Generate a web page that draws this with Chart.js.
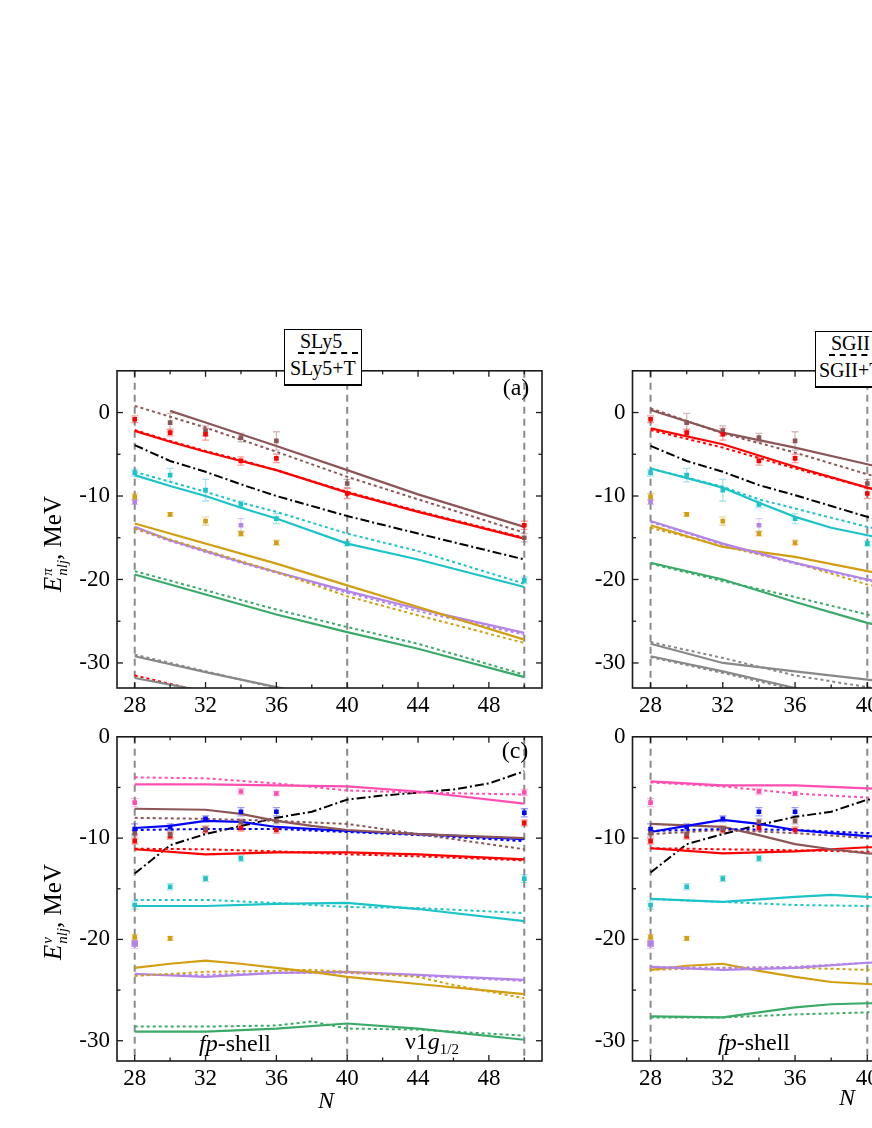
<!DOCTYPE html>
<html>
<head>
<meta charset="utf-8">
<script src="https://cdn.jsdelivr.net/npm/chart.js@4.4.1/dist/chart.umd.min.js"></script>
<style>
html, body { margin: 0; padding: 0; width: 872px; height: 1128px; overflow: hidden; background: #fff; }
canvas { position: absolute; }
.t { position: absolute; font-family: 'Liberation Serif', 'Times New Roman', serif; color: #000; white-space: nowrap; z-index: 2; }
.c { transform: translate(-50%, -50%); font-size: 24px; line-height: 1; }
.ytitle { transform: translate(-50%, -50%) rotate(-90deg); font-size: 25px; line-height: 1; }
.ss { display: inline-flex; flex-direction: column; font-size: 15px; line-height: 15px; vertical-align: 9px; margin-left: 1px; }
.box { border: 1.5px solid #000; border-bottom-width: 2.5px; background: #fff; box-sizing: border-box; font-size: 20px; height: 57px; }
.box .l1 { height: 25px; line-height: 22px; padding-left: 13px; }
.box .l1 span { display: inline-block; width: 58px; padding-left: 2px; border-bottom: 2px dashed #000; line-height: 21px; }
.box .l2 { line-height: 26px; padding-left: 5px; }
</style>
</head>
<body>
<canvas id="pa" width="560" height="368" style="left:0;top:350px"></canvas>
<canvas id="pc" width="560" height="375" style="left:0;top:716px"></canvas>
<canvas id="pb" width="564" height="368" style="left:520px;top:350px"></canvas>
<canvas id="pd" width="564" height="375" style="left:520px;top:716px"></canvas>

<div class="t box" style="left:284px;top:329px;width:78px"><div class="l1"><span>SLy5</span></div><div class="l2">SLy5+T</div></div>
<div class="t box" style="left:815px;top:331px;width:78px"><div class="l1" style="padding-left:13px"><span>SGII</span></div><div class="l2" style="padding-left:3px">SGII+T</div></div>

<div class="t ytitle" style="left:55px;top:544px"><i>E</i><span class="ss"><i>π</i><i>nlj</i></span>, MeV</div>
<div class="t ytitle" style="left:55px;top:912px"><i>E</i><span class="ss"><i>ν</i><i>nlj</i></span>, MeV</div>

<div class="t c" style="left:516px;top:387px">(a)</div>
<div class="t c" style="left:515px;top:750px">(c)</div>
<div class="t c" style="left:235px;top:1043px"><i>fp</i>-shell</div>
<div class="t c" style="left:754px;top:1042px"><i>fp</i>-shell</div>
<div class="t c" style="left:432px;top:1043px">ν1<i>g</i><sub style="font-size:15px">1/2</sub></div>
<div class="t c" style="left:326px;top:1100px"><i>N</i></div>
<div class="t c" style="left:847px;top:1097px"><i>N</i></div>

<script>
// neutron number grids
const G = [28, 30, 32, 34, 36, 38, 40, 42, 44, 46, 48, 50];
const E = [28, 30, 32, 34, 36, 40, 50];
const xTicks = [28, 32, 36, 40, 44, 48];
const xMinor = [30, 34, 38, 42, 46, 50];
const yTicks = [0, -10, -20, -30];
const yMinor = [-5, -15, -25];
const refLines = [28, 40, 50];

// (a) protons, SLy5+T (solid) and SLy5 (dotted)
const aBrownT  = [null, 0.2, -1.2, null, -4.0, null, -6.9, null, -9.8, null, null, -13.7];
const aBrown   = [0.8, null, -1.8, null, -4.7, null, -7.7, null, -10.4, null, null, -14.4];
const aRedT    = [-2.2, -3.5, -4.7, -5.8, -6.9, null, -9.6, null, -11.9, null, null, -15.1];
const aRed     = [-2.1, -3.4, -4.6, -5.7, -6.9, null, -9.5, null, -11.8, null, null, -15.0];
const aFermi   = [-3.9, -5.8, -7.1, -8.6, -10.0, null, -12.4, null, -14.5, null, null, -17.6];
const aCyanT   = [-7.5, -8.8, -10.0, -11.4, -12.7, null, -15.7, null, -17.6, null, null, -20.9];
const aCyan    = [-7.1, -8.3, -9.5, -10.8, -11.9, null, -14.5, null, -16.6, null, null, -20.5];
const aGoldT   = [-13.3, null, null, null, -18.1, null, -20.7, null, -23.3, null, null, -27.2];
const aGold    = [-13.9, null, null, null, -19.1, null, -22.0, null, -24.3, null, null, -27.6];
const aPurpleT = [-13.7, -15.3, -16.6, -17.9, -19.1, null, -21.4, null, -23.5, null, null, -26.4];
const aPurple  = [-13.9, -15.4, -16.7, -18.0, -19.2, null, -21.6, null, -23.8, null, null, -26.6];
const aGreenT  = [-19.4, null, null, null, -24.2, null, -26.3, null, -28.3, null, null, -31.7];
const aGreen   = [-19.0, null, null, null, -23.6, null, -25.7, null, -27.7, null, null, -31.4];
const aGrayT   = [-29.2, null, -31.1, null, -32.9, null, -34.6];
const aGray    = [-29.0, null, -31.0, null, -33.0, null, -35.0];
const aGray2T  = [-31.8, -32.6, -33.4];
const aRedLow  = [-31.5, -32.5, -33.5];

// (b) protons, SGII+T (solid) and SGII (dotted)
const bBrownT  = [0.3, null, -2.4, null, -4.2, null, -6.2, -7.2];
const bBrown   = [0.5, null, -2.5, null, -4.8, null, -7.4, -8.5];
const bRedT    = [-1.9, null, -3.8, null, -6.5, null, -9.0, -10.1];
const bRed     = [-2.1, null, -4.2, null, -6.7, null, -9.0, -10.1];
const bFermi   = [-4.0, -5.8, -7.1, -8.7, -9.9, -11.2, -12.5, -13.5];
const bCyanT   = [-6.7, null, -9.0, -10.8, -12.5, -13.8, -14.7, -15.6];
const bCyan    = [-6.7, null, -8.9, -10.4, -11.5, null, -13.7, -14.5];
const bPurpleT = [-13.0, null, -15.7, null, -18.0, null, -20.0, -21.0];
const bPurple  = [-13.1, null, -15.8, null, -18.1, null, -20.1, -21.1];
const bGoldT   = [-13.5, null, -16.1, null, -17.3, null, -19.0, -19.8];
const bGold    = [-13.8, null, -16.0, null, -18.0, null, -20.6, -21.6];
const bGreenT  = [-18.0, null, -20.0, null, -22.7, null, -25.2, -26.2];
const bGreen   = [-18.1, null, -20.2, null, -22.1, null, -24.2, -25.1];
const bGray1T  = [-27.7, null, -30.0, null, -31.0, null, -32.0, -32.6];
const bGray1   = [-27.5, null, -29.4, null, -31.5, null, -32.9, -33.5];
const bGray2T  = [-29.2, null, -31.0, null, -33.0, null, -35.0];
const bGray2   = [-29.3, null, -31.2, null, -33.2, null, -35.2];

// (c) neutrons, SLy5+T (solid) and SLy5 (dotted)
const cPinkT   = [-4.7, null, -4.7, null, -4.8, null, -4.9, null, -5.4, null, null, -6.6];
const cPink    = [-4.0, null, -4.1, null, -4.6, null, -5.3, null, -5.5, null, null, -5.7];
const cBrownT  = [-7.1, null, -7.2, -7.6, -8.3, -8.8, -9.2, null, -9.6, null, null, -10.0];
const cBrown   = [-8.0, null, -8.1, null, -8.3, null, -8.6, null, -9.6, null, null, -11.1];
const cBlueT   = [-9.0, -8.8, -8.3, -8.4, -8.9, null, -9.3, null, -9.6, null, null, -10.1];
const cBlue    = [-9.2, null, -9.1, null, -9.1, null, -9.4, null, -9.7, null, null, -10.3];
const cRedT    = [-11.1, null, -11.6, null, -11.4, null, -11.4, null, -11.6, null, null, -12.1];
const cRed     = [-11.05, null, -11.1, null, -11.3, null, -11.6, null, -11.8, null, null, -12.2];
const cFermi   = [-13.5, -10.7, -9.6, -8.8, -8.0, -7.4, -6.2, -5.8, -5.5, -5.2, -4.6, -3.4];
const cCyanT   = [-16.7, null, -16.7, null, -16.5, null, -16.4, null, -17.0, null, null, -18.2];
const cCyan    = [-16.1, null, -16.1, null, -16.4, null, -16.8, null, -16.9, null, null, -17.4];
const cGoldT   = [-22.8, -22.4, -22.1, -22.4, -22.8, -23.2, -23.7, null, -24.4, null, null, -25.4];
const cGold    = [-23.6, null, -23.2, null, -23.1, -23.0, -23.2, null, -23.7, -24.5, null, -25.8];
const cPurpleT = [-23.4, null, -23.7, null, -23.3, null, -23.2, null, -23.5, null, null, -24.0];
const cPurple  = [-23.5, null, -23.5, null, -23.3, null, -23.3, null, -23.6, null, null, -24.1];
const cGreenT  = [-29.1, null, -29.1, null, -28.8, null, -28.3, null, -28.8, null, null, -29.9];
const cGreen   = [-28.6, null, -28.6, null, -28.5, -28.1, -28.8, null, -28.9, null, null, -29.5];

// (d) neutrons, SGII+T (solid) and SGII (dotted)
const dPinkT   = [-4.4, null, -4.8, null, -4.8, null, -5.1, -5.2];
const dPink    = [-4.5, null, -4.9, null, -5.6, -5.8, -6.0, -6.1];
const dBlueT   = [-9.4, -8.8, -8.2, -8.6, -9.2, -9.5, -9.8, -9.9];
const dBlue    = [-9.3, null, -9.1, null, -9.2, null, -9.5, -9.6];
const dBrownT  = [-8.6, null, -8.9, -9.7, -10.6, -11.1, -11.5, -11.6];
const dBrown   = [-9.6, null, -9.2, null, -9.5, null, -10.0, -10.1];
const dRedT    = [-11.0, null, -11.5, null, -11.3, null, -10.9, -10.9];
const dRed     = [-11.0, null, -11.1, null, -11.2, null, -11.35, -11.4];
const dFermi   = [-13.4, -10.6, -9.6, -8.7, -7.9, -7.4, -6.2, -5.9];
const dCyanT   = [-16.0, null, -16.3, null, -15.8, -15.6, -15.8, -15.9];
const dCyan    = [-16.0, null, -16.3, null, -16.6, null, -16.7, -16.8];
const dPurpleT = [-22.7, null, -23.0, null, -22.8, null, -22.3, -22.2];
const dPurple  = [-22.7, null, -22.8, null, -22.7, null, -22.3, -22.3];
const dGoldT   = [-23.0, -22.6, -22.4, -23.1, -23.7, -24.2, -24.4, -24.6];
const dGold    = [-23.0, null, -22.8, null, -22.8, null, -23.0, -23.1];
const dGreenT  = [-27.6, null, -27.7, null, -26.7, -26.4, -26.3, -26.3];
const dGreen   = [-27.7, null, -27.7, null, -27.4, null, -27.2, -27.2];

// experimental levels (on grid E) and their errors
const pRed = [-0.8, -2.4, -2.6, -5.8, -5.5, -9.7, -13.5];
const pRedErr = [0.4, 0.4, 0.7, 0.5, 0.5, 0.6, 0.5];
const pBrown = [null, -1.2, -2.2, -3.0, -3.4, -8.5, -15.0];
const pBrownErr = [0, 1.1, 0.6, 0.5, 1.1, 0.5, 0.5];
const pCyan = [-7.2, -7.5, -9.3, -11.0, -12.7, -15.7, -20.1];
const pCyanErr = [0.4, 0.8, 1.3, 0.4, 0.6, 0.3, 0.4];
const pGold = [-10.1, -12.2, -13.0, -14.5, -15.6, null, null];
const pGoldErr = [0.4, 0.2, 0.5, 0.3, 0.3, 0, 0];
const pPurple = [-10.7, null, null, -13.5, null, null, null];
const pPurpleErr = [0.3, 0, 0, 0.8, 0, 0, 0];

const nPink = [-6.5, null, null, -5.4, -5.6, null, -5.5];
const nPinkErr = [0.4, 0, 0, 0.3, 0.2, 0, 0.3];
const nBlue = [-9.1, -8.9, -8.1, -7.4, -7.4, null, -7.5];
const nBlueErr = [0.5, 0.3, 0.3, 0.4, 0.4, 0, 0.4];
const nBrown = [-9.5, -9.6, -9.1, -8.4, -8.3, null, null];
const nBrownErr = [0.3, 0.3, 0.3, 0.3, 0.3, 0, 0];
const nRed = [-10.3, -9.8, -9.2, -9.0, -9.2, null, -8.5];
const nRedErr = [0.3, 0.3, 0.3, 0.3, 0.3, 0, 0.3];
const nCyan = [-16.6, -14.8, -14.0, -12.0, null, null, -14.0];
const nCyanErr = [0.4, 0.3, 0.3, 0.3, 0, 0, 0.4];
const nGold = [-19.8, -19.9, null, null, null, null, null];
const nGoldErr = [0.3, 0.2, 0, 0, 0, 0, 0];
const nPurple = [-20.4, null, null, null, null, null, null];
const nPurpleErr = [0.5, 0, 0, 0, 0, 0, 0];

const C = {
  brown: '#8c5656', red: '#ff0000', black: '#000000', cyan: '#1cc3c8', gold: '#d29e12',
  purple: '#b384e8', green: '#3aaa68', gray: '#888888', pink: '#ff4db1', blue: '#0000ff'
};
const DASH = { solid: [], dot: [3, 3], dashdot: [9, 3, 2, 3] };
const FONT = "'Liberation Serif', 'Times New Roman', serif";

function lineSets(spec) {
  return spec.map(([vals, col, style]) => ({
    data: vals.map((y, i) => ({ x: G[i], y })).filter(p => p.y !== null),
    borderColor: C[col], borderWidth: style === 'solid' ? 2.2 : 2, borderDash: DASH[style],
    pointRadius: 0, tension: 0, fill: false, order: 2
  }));
}
function pointSets(spec) {
  return spec.map(([vals, errs, col, r]) => ({
    data: vals.map((y, i) => ({ x: E[i], y, e: errs[i] })).filter(p => p.y !== null),
    showLine: false, pointStyle: 'rect', pointRadius: r || 3.3,
    pointBackgroundColor: C[col], pointBorderWidth: 0, errColor: C[col] + '66', order: 0
  }));
}

const deco = {
  id: 'deco',
  beforeDatasetsDraw(chart) {
    const { ctx, chartArea: a, scales: { x, y } } = chart;
    ctx.save();
    ctx.beginPath(); ctx.rect(a.left, a.top, a.width, a.height); ctx.clip();
    ctx.strokeStyle = '#8a8a8a'; ctx.lineWidth = 2; ctx.setLineDash([7, 5]);
    refLines.forEach(v => {
      const px = x.getPixelForValue(v);
      ctx.beginPath(); ctx.moveTo(px, a.top); ctx.lineTo(px, a.bottom); ctx.stroke();
    });
    ctx.setLineDash([]);
    ctx.lineWidth = 1.3;
    chart.data.datasets.forEach(ds => {
      if (!ds.errColor) return;
      ctx.strokeStyle = ds.errColor;
      ds.data.forEach(p => {
        if (!p.e) return;
        const px = x.getPixelForValue(p.x);
        const y1 = y.getPixelForValue(p.y - p.e), y2 = y.getPixelForValue(p.y + p.e);
        ctx.beginPath();
        ctx.moveTo(px, y1); ctx.lineTo(px, y2);
        ctx.moveTo(px - 3.5, y1); ctx.lineTo(px + 3.5, y1);
        ctx.moveTo(px - 3.5, y2); ctx.lineTo(px + 3.5, y2);
        ctx.stroke();
      });
    });
    ctx.restore();
  },
  afterDraw(chart) {
    const { ctx, chartArea: a, scales: { x, y } } = chart;
    ctx.save();
    ctx.strokeStyle = '#1a1a1a'; ctx.lineWidth = 1.6;
    ctx.strokeRect(a.left, a.top, a.width, a.height);
    const seg = (x1, y1, x2, y2) => { ctx.beginPath(); ctx.moveTo(x1, y1); ctx.lineTo(x2, y2); ctx.stroke(); };
    ctx.lineWidth = 1.3;
    const xt = (vals, len) => vals.forEach(v => {
      const px = x.getPixelForValue(v);
      if (px <= a.left || px >= a.right) return;
      seg(px, a.bottom, px, a.bottom - len); seg(px, a.top, px, a.top + len);
    });
    const yt = (vals, len) => vals.forEach(v => {
      const py = y.getPixelForValue(v);
      if (py <= a.top || py >= a.bottom) return;
      seg(a.left, py, a.left + len, py); seg(a.right, py, a.right - len, py);
    });
    xt(xTicks, 6); xt(xMinor, 3.5); yt(yTicks, 6); yt(yMinor, 3.5);
    ctx.restore();
  }
};

function makeChart(id, yMin, yMax, padTop, axisW, datasets) {
  return new Chart(document.getElementById(id), {
    type: 'line',
    data: { datasets },
    options: {
      responsive: false, animation: false, events: [],
      layout: { padding: { top: padTop, right: 18, left: 0, bottom: 0 } },
      plugins: { legend: { display: false }, tooltip: { enabled: false } },
      scales: {
        x: {
          type: 'linear', min: 27, max: 51,
          grid: { display: false, drawTicks: false }, border: { display: false },
          afterBuildTicks: s => { s.ticks = xTicks.map(v => ({ value: v })); },
          afterFit: s => { s.height = 30; },
          ticks: { font: { family: FONT, size: 23 }, color: '#000', padding: 4, maxRotation: 0, autoSkip: false }
        },
        y: {
          type: 'linear', min: yMin, max: yMax,
          grid: { display: false, drawTicks: false }, border: { display: false },
          afterBuildTicks: s => { s.ticks = yTicks.map(v => ({ value: v })); },
          afterFit: s => { s.width = axisW; },
          ticks: { font: { family: FONT, size: 23 }, color: '#000', padding: 7 }
        }
      }
    },
    plugins: [deco]
  });
}

const protonPts = [
  [pRed, pRedErr, 'red'], [pBrown, pBrownErr, 'brown'], [pCyan, pCyanErr, 'cyan'],
  [pGold, pGoldErr, 'gold'], [pPurple, pPurpleErr, 'purple']
];
const neutronPts = [
  [nPink, nPinkErr, 'pink'], [nBlue, nBlueErr, 'blue'], [nBrown, nBrownErr, 'brown'],
  [nRed, nRedErr, 'red'], [nCyan, nCyanErr, 'cyan'], [nGold, nGoldErr, 'gold'],
  [nPurple, nPurpleErr, 'purple', 4.6]
];

makeChart('pa', -33, 5, 11, 117, pointSets(protonPts).concat(lineSets([
  [aBrownT, 'brown', 'solid'], [aBrown, 'brown', 'dot'],
  [aRedT, 'red', 'solid'], [aRed, 'red', 'dot'],
  [aFermi, 'black', 'dashdot'],
  [aCyanT, 'cyan', 'solid'], [aCyan, 'cyan', 'dot'],
  [aGoldT, 'gold', 'solid'], [aGold, 'gold', 'dot'],
  [aPurpleT, 'purple', 'solid'], [aPurple, 'purple', 'dot'],
  [aGreenT, 'green', 'solid'], [aGreen, 'green', 'dot'],
  [aGrayT, 'gray', 'solid'], [aGray, 'gray', 'dot'],
  [aGray2T, 'gray', 'solid'], [aRedLow, 'red', 'dot']
])));

makeChart('pb', -33, 5, 11, 112.5, pointSets(protonPts).concat(lineSets([
  [bBrownT, 'brown', 'solid'], [bBrown, 'brown', 'dot'],
  [bRedT, 'red', 'solid'], [bRed, 'red', 'dot'],
  [bFermi, 'black', 'dashdot'],
  [bCyanT, 'cyan', 'solid'], [bCyan, 'cyan', 'dot'],
  [bPurpleT, 'purple', 'solid'], [bPurple, 'purple', 'dot'],
  [bGoldT, 'gold', 'solid'], [bGold, 'gold', 'dot'],
  [bGreenT, 'green', 'solid'], [bGreen, 'green', 'dot'],
  [bGray1T, 'gray', 'solid'], [bGray1, 'gray', 'dot'],
  [bGray2T, 'gray', 'solid'], [bGray2, 'gray', 'dot']
])));

makeChart('pc', -32, 0, 10.5, 117, pointSets(neutronPts).concat(lineSets([
  [cPinkT, 'pink', 'solid'], [cPink, 'pink', 'dot'],
  [cBrownT, 'brown', 'solid'], [cBrown, 'brown', 'dot'],
  [cBlueT, 'blue', 'solid'], [cBlue, 'blue', 'dot'],
  [cRedT, 'red', 'solid'], [cRed, 'red', 'dot'],
  [cFermi, 'black', 'dashdot'],
  [cCyanT, 'cyan', 'solid'], [cCyan, 'cyan', 'dot'],
  [cGoldT, 'gold', 'solid'], [cGold, 'gold', 'dot'],
  [cPurpleT, 'purple', 'solid'], [cPurple, 'purple', 'dot'],
  [cGreenT, 'green', 'solid'], [cGreen, 'green', 'dot']
])));

makeChart('pd', -32, 0, 10.5, 112.5, pointSets(neutronPts).concat(lineSets([
  [dPinkT, 'pink', 'solid'], [dPink, 'pink', 'dot'],
  [dBlueT, 'blue', 'solid'], [dBlue, 'blue', 'dot'],
  [dBrownT, 'brown', 'solid'], [dBrown, 'brown', 'dot'],
  [dRedT, 'red', 'solid'], [dRed, 'red', 'dot'],
  [dFermi, 'black', 'dashdot'],
  [dCyanT, 'cyan', 'solid'], [dCyan, 'cyan', 'dot'],
  [dPurpleT, 'purple', 'solid'], [dPurple, 'purple', 'dot'],
  [dGoldT, 'gold', 'solid'], [dGold, 'gold', 'dot'],
  [dGreenT, 'green', 'solid'], [dGreen, 'green', 'dot']
])));
</script>
</body>
</html>
